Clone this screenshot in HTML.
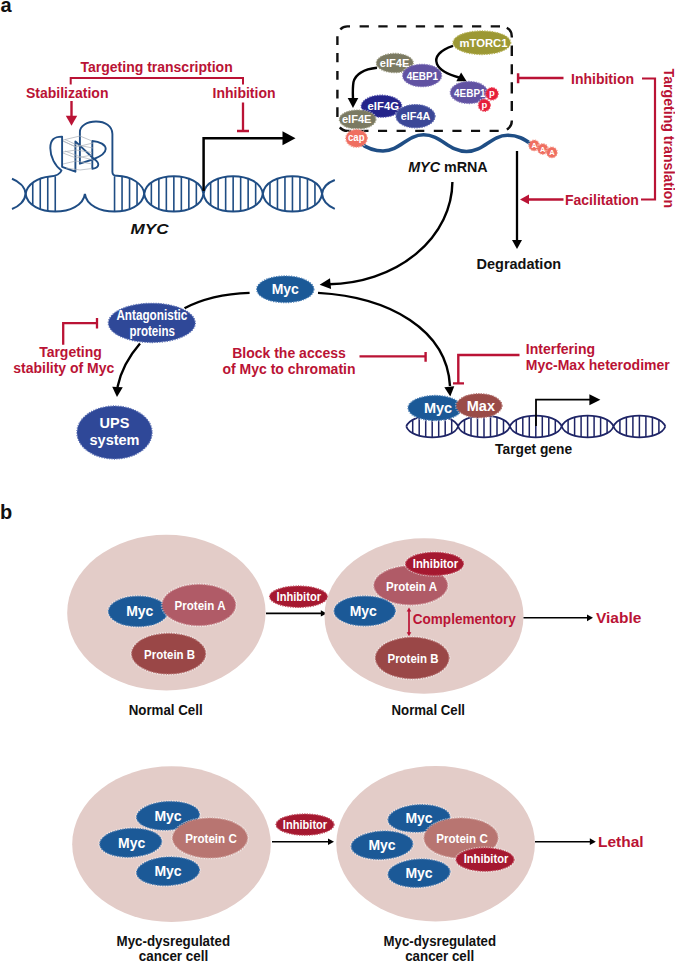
<!DOCTYPE html>
<html><head><meta charset="utf-8"><title>Myc targeting strategies</title>
<style>html,body{margin:0;padding:0;background:#fff;}svg{display:block;}text{font-family:"Liberation Sans",sans-serif;}</style>
</head><body>
<svg width="675" height="963" viewBox="0 0 675 963">
<rect width="675" height="963" fill="#fff"/>
<text x="0.5" y="11.5" font-size="20" fill="#111" font-weight="bold" font-style="normal" text-anchor="start">a</text>
<text x="0" y="518.6" font-size="20" fill="#111" font-weight="bold" font-style="normal" text-anchor="start">b</text>
<text x="80.5" y="72" font-size="14" fill="#ba1335" font-weight="bold" font-style="normal" text-anchor="start">Targeting transcription</text>
<path d="M70.7,84.5V78H243V84.5" fill="none" stroke="#ba1335" stroke-width="2"/>
<text x="26" y="98" font-size="14" fill="#ba1335" font-weight="bold" font-style="normal" text-anchor="start">Stabilization</text>
<text x="212.5" y="98" font-size="14" fill="#ba1335" font-weight="bold" font-style="normal" text-anchor="start">Inhibition</text>
<path d="M71.5,101V117" stroke="#ba1335" stroke-width="2.4"/>
<polygon points="71.50,125.70 65.80,115.70 77.20,115.70" fill="#ba1335"/>
<path d="M243,102.5V131 M237,131H249" fill="none" stroke="#ba1335" stroke-width="2.3"/>
<path d="M12,178.8 C19,181.5 25,187 25.6,193.9 C25,201 19,206.5 12,209" fill="none" stroke="#1f4d84" stroke-width="2"/>
<path d="M25.60,193.90 C28.57,217.40 81.94,217.40 84.90,193.90 " fill="none" stroke="#1f4d84" stroke-width="2.0"/><path d="M32.75,182.53V205.27M40.25,178.69V209.11M47.75,176.84V210.96M55.25,176.28V211.52" stroke="#1f4d84" stroke-width="1.6"/>
<path d="M84.90,193.90 C87.87,217.40 141.24,217.40 144.20,193.90 " fill="none" stroke="#1f4d84" stroke-width="2.0"/><path d="M114.55,176.28V211.53M122.05,176.84V210.96M129.55,178.69V209.11M137.05,182.53V205.27" stroke="#1f4d84" stroke-width="1.6"/>
<path d="M144.20,193.90 C147.16,170.40 200.53,170.40 203.50,193.90 M144.20,193.90 C147.16,217.40 200.53,217.40 203.50,193.90 " fill="none" stroke="#1f4d84" stroke-width="2.0"/><path d="M151.35,182.53V205.27M158.85,178.69V209.11M166.35,176.84V210.96M173.85,176.28V211.53M181.35,176.84V210.96M188.85,178.69V209.11M196.35,182.53V205.27" stroke="#1f4d84" stroke-width="1.6"/>
<path d="M203.50,193.90 C206.46,170.40 259.83,170.40 262.80,193.90 M203.50,193.90 C206.46,217.40 259.83,217.40 262.80,193.90 " fill="none" stroke="#1f4d84" stroke-width="2.0"/><path d="M210.65,182.53V205.27M218.15,178.69V209.11M225.65,176.84V210.96M233.15,176.28V211.53M240.65,176.84V210.96M248.15,178.69V209.11M255.65,182.53V205.27" stroke="#1f4d84" stroke-width="1.6"/>
<path d="M262.80,193.90 C265.76,170.40 319.13,170.40 322.10,193.90 M262.80,193.90 C265.76,217.40 319.13,217.40 322.10,193.90 " fill="none" stroke="#1f4d84" stroke-width="2.0"/><path d="M269.95,182.53V205.27M277.45,178.69V209.11M284.95,176.84V210.96M292.45,176.28V211.52M299.95,176.84V210.96M307.45,178.69V209.11M314.95,182.53V205.27" stroke="#1f4d84" stroke-width="1.6"/>
<path d="M322.1,193.9 C322.7,187 328,182.5 334.8,180 M322.1,193.9 C322.7,201 328,206 334.8,208.8" fill="none" stroke="#1f4d84" stroke-width="2"/>
<path d="M25.6,194 C27,184 38,177.5 50,176.5 C56,176 60,174.5 61.5,170.5 C55,166 50.3,157 50.3,148 C50.3,140 54,136.5 62.1,136.6 V166.8 L75.4,171.7 V141.4 L94,159 C99.5,162.5 100.5,167.5 92.3,168.8 V141 C100,141.5 105.7,145 105.7,149 C105.5,153.5 99,157 94,159 L79.9,163.7 V132 C79.9,126 87,121.5 96,121.5 C105,121.5 112.4,126 112.4,134 V172 C112.4,174.8 114,175.8 117,175.8 C131,176 143.5,184 144.2,194" fill="none" stroke="#1f4d84" stroke-width="1.9" stroke-linejoin="round"/>
<path d="M63,140 L80,136 L92,141 M63,141 L76,147 L93,143 M63,152 L76,150 L92,152.5 M63,153 L76,158 L92,155 M63,164 L76,161 L92,164 M66,168 L80,170 L92,168.5 M63,141 L76,147 M65,139.5 L77,145 L93,148 M65,151 L78,156 L93,160" fill="none" stroke="#a8aeb6" stroke-width="0.7"/>
<path d="M203.6,191 V138.2 H284" fill="none" stroke="#000" stroke-width="2.5"/>
<polygon points="295.50,138.20 282.50,145.20 282.50,131.20" fill="#000"/>
<text x="130.5" y="234" font-size="15" fill="#111" font-weight="bold" font-style="italic" text-anchor="start" textLength="38" lengthAdjust="spacingAndGlyphs">MYC</text>
<path d="M359.60,26.4h9.3M378.33,26.4h9.3M397.06,26.4h9.3M415.79,26.4h9.3M434.52,26.4h9.3M453.25,26.4h9.3M471.98,26.4h9.3M490.71,26.4h9.3M359.40,130.9h9.1M378.00,130.9h9.1M396.60,130.9h9.1M415.20,130.9h9.1M433.80,130.9h9.1M452.40,130.9h9.1M471.00,130.9h9.1M489.60,130.9h9.1M337.4,36.2V44.9M337.4,53V62.3M337.4,71V79.8M337.4,89.7V98.5M337.4,107.2V117M511.8,45.5V56.1M511.8,64.2V74.2M511.8,82.3V93.5M511.8,101V111M340.3,29.3A10,10 0 0 1 347.4,26.4H350M506.8,27.74A10,10 0 0 1 511.8,36.4V37.5M511.8,120.5A10,10 0 0 1 506.8,129.56M339.8,127.4A10,10 0 0 0 347.4,130.9H351.3" fill="none" stroke="#111" stroke-width="2.4"/>
<path d="M360,143 C366,147.5 373,151 383,151 C400,151 407,134.8 423.5,134.8 C441,134.8 449,151.5 466.5,151.5 C484,151.5 491,135.3 507.5,135.3 C518,135.3 524,139 531,144" fill="none" stroke="#1f4e85" stroke-width="3.6"/>
<ellipse cx="534.2" cy="145.4" rx="6.2" ry="6.2" fill="none" stroke="#fff" stroke-opacity="0.55" stroke-width="1.1" stroke-dasharray="1.4 1.1"/><ellipse cx="534.2" cy="145.4" rx="5.3" ry="5.3" fill="#ef6e60" stroke="#f49a8c" stroke-width="1.3" stroke-dasharray="1.2 1.3"/>
<text x="534.2" y="148.1" font-size="7.5" fill="#fff" font-weight="bold" font-style="normal" text-anchor="middle">A</text>
<ellipse cx="542.8" cy="149" rx="6.2" ry="6.2" fill="none" stroke="#fff" stroke-opacity="0.55" stroke-width="1.1" stroke-dasharray="1.4 1.1"/><ellipse cx="542.8" cy="149" rx="5.3" ry="5.3" fill="#ef6e60" stroke="#f49a8c" stroke-width="1.3" stroke-dasharray="1.2 1.3"/>
<text x="542.8" y="151.7" font-size="7.5" fill="#fff" font-weight="bold" font-style="normal" text-anchor="middle">A</text>
<ellipse cx="551.9" cy="152.4" rx="6.2" ry="6.2" fill="none" stroke="#fff" stroke-opacity="0.55" stroke-width="1.1" stroke-dasharray="1.4 1.1"/><ellipse cx="551.9" cy="152.4" rx="5.3" ry="5.3" fill="#ef6e60" stroke="#f49a8c" stroke-width="1.3" stroke-dasharray="1.2 1.3"/>
<text x="551.9" y="155.1" font-size="7.5" fill="#fff" font-weight="bold" font-style="normal" text-anchor="middle">A</text>
<ellipse cx="481.8" cy="42.7" rx="29.799999999999997" ry="12.700000000000001" fill="none" stroke="#fff" stroke-opacity="0.55" stroke-width="1.1" stroke-dasharray="1.4 1.1"/><ellipse cx="481.8" cy="42.7" rx="28.9" ry="11.8" fill="#9c9834" stroke="#b8b45a" stroke-width="1.3" stroke-dasharray="1.2 1.3"/>
<text x="483.5" y="46.7" font-size="11.3" fill="#fff" font-weight="bold" font-style="normal" text-anchor="middle" textLength="48" lengthAdjust="spacingAndGlyphs">mTORC1</text>
<ellipse cx="394.8" cy="63" rx="19.299999999999997" ry="10.5" fill="none" stroke="#fff" stroke-opacity="0.55" stroke-width="1.1" stroke-dasharray="1.4 1.1"/><ellipse cx="394.8" cy="63" rx="18.4" ry="9.6" fill="#7b7a62" stroke="#9a9980" stroke-width="1.3" stroke-dasharray="1.2 1.3"/>
<text x="394.6" y="66.5" font-size="10.5" fill="#fff" font-weight="bold" font-style="normal" text-anchor="middle" textLength="29.5" lengthAdjust="spacingAndGlyphs">eIF4E</text>
<ellipse cx="422.1" cy="75.5" rx="20.4" ry="12.1" fill="none" stroke="#fff" stroke-opacity="0.55" stroke-width="1.1" stroke-dasharray="1.4 1.1"/><ellipse cx="422.1" cy="75.5" rx="19.5" ry="11.2" fill="#6152a2" stroke="#8478bc" stroke-width="1.3" stroke-dasharray="1.2 1.3"/>
<text x="422.4" y="79.6" font-size="10.2" fill="#fff" font-weight="bold" font-style="normal" text-anchor="middle" textLength="31.5" lengthAdjust="spacingAndGlyphs">4EBP1</text>
<ellipse cx="469" cy="92.5" rx="19.599999999999998" ry="11.9" fill="none" stroke="#fff" stroke-opacity="0.55" stroke-width="1.1" stroke-dasharray="1.4 1.1"/><ellipse cx="469" cy="92.5" rx="18.7" ry="11.0" fill="#6152a2" stroke="#8478bc" stroke-width="1.3" stroke-dasharray="1.2 1.3"/>
<text x="469.8" y="96.5" font-size="10.2" fill="#fff" font-weight="bold" font-style="normal" text-anchor="middle" textLength="31.5" lengthAdjust="spacingAndGlyphs">4EBP1</text>
<ellipse cx="492" cy="93.8" rx="7.1000000000000005" ry="7.1000000000000005" fill="none" stroke="#fff" stroke-opacity="0.55" stroke-width="1.1" stroke-dasharray="1.4 1.1"/><ellipse cx="492" cy="93.8" rx="6.2" ry="6.2" fill="#e61e3a" stroke="#ee5064" stroke-width="1.3" stroke-dasharray="1.2 1.3"/>
<text x="492" y="96.4" font-size="9.5" fill="#fff" font-weight="bold" font-style="normal" text-anchor="middle">p</text>
<ellipse cx="484.4" cy="105.3" rx="6.9" ry="6.9" fill="none" stroke="#fff" stroke-opacity="0.55" stroke-width="1.1" stroke-dasharray="1.4 1.1"/><ellipse cx="484.4" cy="105.3" rx="6.0" ry="6.0" fill="#e61e3a" stroke="#ee5064" stroke-width="1.3" stroke-dasharray="1.2 1.3"/>
<text x="484.4" y="107.9" font-size="9.5" fill="#fff" font-weight="bold" font-style="normal" text-anchor="middle">p</text>
<ellipse cx="381.5" cy="106.2" rx="21.099999999999998" ry="11.9" fill="none" stroke="#fff" stroke-opacity="0.55" stroke-width="1.1" stroke-dasharray="1.4 1.1"/><ellipse cx="381.5" cy="106.2" rx="20.2" ry="11" fill="#24248a" stroke="#4848a8" stroke-width="1.3" stroke-dasharray="1.2 1.3"/>
<text x="383.3" y="110.2" font-size="11" fill="#fff" font-weight="bold" font-style="normal" text-anchor="middle" textLength="31.5" lengthAdjust="spacingAndGlyphs">eIF4G</text>
<ellipse cx="415.5" cy="116.2" rx="20.4" ry="12.5" fill="none" stroke="#fff" stroke-opacity="0.55" stroke-width="1.1" stroke-dasharray="1.4 1.1"/><ellipse cx="415.5" cy="116.2" rx="19.5" ry="11.6" fill="#3b4797" stroke="#5d68b0" stroke-width="1.3" stroke-dasharray="1.2 1.3"/>
<text x="415.5" y="119.8" font-size="10.8" fill="#fff" font-weight="bold" font-style="normal" text-anchor="middle" textLength="29.5" lengthAdjust="spacingAndGlyphs">eIF4A</text>
<ellipse cx="357.6" cy="119.5" rx="19.099999999999998" ry="10.3" fill="none" stroke="#fff" stroke-opacity="0.55" stroke-width="1.1" stroke-dasharray="1.4 1.1"/><ellipse cx="357.6" cy="119.5" rx="18.2" ry="9.4" fill="#7b7a62" stroke="#9a9980" stroke-width="1.3" stroke-dasharray="1.2 1.3"/>
<text x="356.7" y="122.9" font-size="10.5" fill="#fff" font-weight="bold" font-style="normal" text-anchor="middle" textLength="29.5" lengthAdjust="spacingAndGlyphs">eIF4E</text>
<ellipse cx="356.5" cy="138.3" rx="11.65" ry="9.8" fill="none" stroke="#fff" stroke-opacity="0.55" stroke-width="1.1" stroke-dasharray="1.4 1.1"/><ellipse cx="356.5" cy="138.3" rx="10.75" ry="8.9" fill="#ef6e60" stroke="#f49a8c" stroke-width="1.3" stroke-dasharray="1.2 1.3"/>
<text x="356.3" y="140.9" font-size="11.5" fill="#fff" font-weight="bold" font-style="normal" text-anchor="middle" textLength="16.5" lengthAdjust="spacingAndGlyphs">cap</text>
<path d="M453,45.8 C440,50 434,57 437,64 C440,71 450,75 459,77.5" fill="none" stroke="#000" stroke-width="2.4"/>
<polygon points="466.60,81.30 456.30,81.34 461.12,72.58" fill="#000"/>
<path d="M377,67.8 C366,69 356,73 353.5,82 C352.5,88 352.8,93 353,99" fill="none" stroke="#000" stroke-width="2.4"/>
<polygon points="353.00,108.00 347.70,98.00 358.30,98.00" fill="#000"/>
<path d="M518.1,73.3V83.2 M518.1,78H563.5" fill="none" stroke="#ba1335" stroke-width="2.5"/>
<text x="571" y="83.7" font-size="14" fill="#ba1335" font-weight="bold" font-style="normal" text-anchor="start">Inhibition</text>
<path d="M642,78.5H655V199.5H641" fill="none" stroke="#ba1335" stroke-width="2.2"/>
<text x="565" y="204.8" font-size="14" fill="#ba1335" font-weight="bold" font-style="normal" text-anchor="start">Facilitation</text>
<path d="M527,199.4H563.5" stroke="#ba1335" stroke-width="2.5"/>
<polygon points="520.00,199.40 529.00,194.60 529.00,204.20" fill="#ba1335"/>
<text x="0" y="0" font-size="14" fill="#ba1335" font-weight="bold" transform="translate(663.5,68.6) rotate(90)" textLength="139.5" lengthAdjust="spacingAndGlyphs">Targeting translation</text>
<text x="408.2" y="171.5" font-size="14.4" fill="#111" font-weight="bold" font-style="normal" text-anchor="start" textLength="79.5" lengthAdjust="spacingAndGlyphs"><tspan font-style="italic">MYC</tspan> mRNA</text>
<path d="M517,151V242" stroke="#000" stroke-width="2.3"/>
<polygon points="517.00,249.00 512.00,240.00 522.00,240.00" fill="#000"/>
<text x="476.5" y="269.3" font-size="14.5" fill="#111" font-weight="bold" font-style="normal" text-anchor="start">Degradation</text>
<path d="M452.4,182 A125,103 0 0 1 329,284.2" fill="none" stroke="#000" stroke-width="2.4"/>
<polygon points="319.60,284.70 330.00,278.13 331.09,289.08" fill="#000"/>
<ellipse cx="285.3" cy="289.3" rx="29.5" ry="14.200000000000001" fill="none" stroke="#fff" stroke-opacity="0.55" stroke-width="1.1" stroke-dasharray="1.4 1.1"/><ellipse cx="285.3" cy="289.3" rx="28.6" ry="13.3" fill="#1b5997" stroke="#4a7eb4" stroke-width="1.3" stroke-dasharray="1.2 1.3"/>
<text x="285.3" y="294.1" font-size="14" fill="#fff" font-weight="bold" font-style="normal" text-anchor="middle">Myc</text>
<path d="M249.6,292.9 C220,294 200,300 184.5,308.3" fill="none" stroke="#000" stroke-width="2.4"/>
<ellipse cx="151.8" cy="322.9" rx="44.4" ry="20.5" fill="none" stroke="#fff" stroke-opacity="0.55" stroke-width="1.1" stroke-dasharray="1.4 1.1"/><ellipse cx="151.8" cy="322.9" rx="43.5" ry="19.6" fill="#2f4898" stroke="#5a6fb4" stroke-width="1.3" stroke-dasharray="1.2 1.3"/>
<text x="151.9" y="319.8" font-size="14" fill="#fff" font-weight="bold" font-style="normal" text-anchor="middle" textLength="71" lengthAdjust="spacingAndGlyphs">Antagonistic</text>
<text x="152.2" y="335.6" font-size="14" fill="#fff" font-weight="bold" font-style="normal" text-anchor="middle" textLength="45.5" lengthAdjust="spacingAndGlyphs">proteins</text>
<path d="M140,343.5 C130,355 121,370 117.5,387" fill="none" stroke="#000" stroke-width="2.4"/>
<polygon points="117.00,397.00 112.21,386.75 122.79,387.28" fill="#000"/>
<ellipse cx="114.5" cy="432.5" rx="38.5" ry="27.4" fill="none" stroke="#fff" stroke-opacity="0.55" stroke-width="1.1" stroke-dasharray="1.4 1.1"/><ellipse cx="114.5" cy="432.5" rx="37.6" ry="26.5" fill="#2f4898" stroke="#5a6fb4" stroke-width="1.3" stroke-dasharray="1.2 1.3"/>
<text x="114.5" y="427.9" font-size="14.5" fill="#fff" font-weight="bold" font-style="normal" text-anchor="middle">UPS</text>
<text x="114.5" y="445.4" font-size="14.5" fill="#fff" font-weight="bold" font-style="normal" text-anchor="middle">system</text>
<path d="M63.2,344.7V323.2H97 M97,318V328.6" fill="none" stroke="#ba1335" stroke-width="2.3"/>
<text x="70.5" y="357" font-size="14" fill="#ba1335" font-weight="bold" font-style="normal" text-anchor="middle">Targeting</text>
<text x="63.8" y="372.6" font-size="14" fill="#ba1335" font-weight="bold" font-style="normal" text-anchor="middle">stability of Myc</text>
<path d="M318,292.9 C390,297 447,330 450,386" fill="none" stroke="#000" stroke-width="2.4"/>
<polygon points="450.30,396.60 444.33,387.15 454.28,386.15" fill="#000"/>
<text x="289" y="357.8" font-size="14" fill="#ba1335" font-weight="bold" font-style="normal" text-anchor="middle">Block the access</text>
<text x="289" y="374" font-size="14" fill="#ba1335" font-weight="bold" font-style="normal" text-anchor="middle">of Myc to chromatin</text>
<path d="M359.5,356.4H425.6 M425.6,352V361.7" fill="none" stroke="#ba1335" stroke-width="2.4"/>
<path d="M519.5,355H458.3V383.4 M453,383.4H464" fill="none" stroke="#ba1335" stroke-width="2.4"/>
<text x="525.8" y="353.7" font-size="14" fill="#ba1335" font-weight="bold" font-style="normal" text-anchor="start">Interfering</text>
<text x="525.8" y="370.2" font-size="14" fill="#ba1335" font-weight="bold" font-style="normal" text-anchor="start">Myc-Max heterodimer</text>
<path d="M406.30,426.50 C411.48,411.94 452.92,411.94 458.10,426.50 M406.30,426.50 C411.48,441.06 452.92,441.06 458.10,426.50 " fill="none" stroke="#1e2466" stroke-width="1.8"/><path d="M412.70,419.77V433.23M419.20,417.21V435.79M425.70,415.96V437.04M432.20,415.58V437.42M438.70,415.96V437.04M445.20,417.21V435.79M451.70,419.77V433.23" stroke="#1e2466" stroke-width="1.5"/>
<path d="M458.10,426.50 C463.28,411.94 504.72,411.94 509.90,426.50 M458.10,426.50 C463.28,441.06 504.72,441.06 509.90,426.50 " fill="none" stroke="#1e2466" stroke-width="1.8"/><path d="M464.50,419.77V433.23M471.00,417.21V435.79M477.50,415.96V437.04M484.00,415.58V437.42M490.50,415.96V437.04M497.00,417.21V435.79M503.50,419.77V433.23" stroke="#1e2466" stroke-width="1.5"/>
<path d="M509.90,426.50 C515.08,411.94 556.52,411.94 561.70,426.50 M509.90,426.50 C515.08,441.06 556.52,441.06 561.70,426.50 " fill="none" stroke="#1e2466" stroke-width="1.8"/><path d="M516.30,419.77V433.23M522.80,417.21V435.79M529.30,415.96V437.04M535.80,415.58V437.42M542.30,415.96V437.04M548.80,417.21V435.79M555.30,419.77V433.23" stroke="#1e2466" stroke-width="1.5"/>
<path d="M561.70,426.50 C566.88,411.94 608.32,411.94 613.50,426.50 M561.70,426.50 C566.88,441.06 608.32,441.06 613.50,426.50 " fill="none" stroke="#1e2466" stroke-width="1.8"/><path d="M568.10,419.77V433.23M574.60,417.21V435.79M581.10,415.96V437.04M587.60,415.58V437.42M594.10,415.96V437.04M600.60,417.21V435.79M607.10,419.77V433.23" stroke="#1e2466" stroke-width="1.5"/>
<path d="M613.50,426.50 C618.68,411.94 660.12,411.94 665.30,426.50 M613.50,426.50 C618.68,441.06 660.12,441.06 665.30,426.50 " fill="none" stroke="#1e2466" stroke-width="1.8"/><path d="M619.90,419.77V433.23M626.40,417.21V435.79M632.90,415.96V437.04M639.40,415.58V437.42M645.90,415.96V437.04M652.40,417.21V435.79M658.90,419.77V433.23" stroke="#1e2466" stroke-width="1.5"/>
<path d="M536,426 V399.7 H590" fill="none" stroke="#000" stroke-width="1.8"/>
<polygon points="600.40,399.70 589.40,405.20 589.40,394.20" fill="#000"/>
<ellipse cx="435" cy="408" rx="27.9" ry="13.4" fill="none" stroke="#fff" stroke-opacity="0.55" stroke-width="1.1" stroke-dasharray="1.4 1.1"/><ellipse cx="435" cy="408" rx="27" ry="12.5" fill="#1b5997" stroke="#4a7eb4" stroke-width="1.3" stroke-dasharray="1.2 1.3"/>
<ellipse cx="479.2" cy="405.7" rx="23.7" ry="12.9" fill="none" stroke="#fff" stroke-opacity="0.55" stroke-width="1.1" stroke-dasharray="1.4 1.1"/><ellipse cx="479.2" cy="405.7" rx="22.8" ry="12.0" fill="#9a4b47" stroke="#b47370" stroke-width="1.3" stroke-dasharray="1.2 1.3"/>
<text x="438" y="413" font-size="14.5" fill="#fff" font-weight="bold" font-style="normal" text-anchor="middle">Myc</text>
<text x="480.9" y="410.7" font-size="14.5" fill="#fff" font-weight="bold" font-style="normal" text-anchor="middle">Max</text>
<text x="533.6" y="454.2" font-size="14" fill="#111" font-weight="bold" font-style="normal" text-anchor="middle" textLength="77" lengthAdjust="spacingAndGlyphs">Target gene</text>
<ellipse cx="166.4" cy="612.7" rx="99.2" ry="77.9" fill="#e3ccc8"/>
<ellipse cx="138.1" cy="611.4" rx="30.599999999999998" ry="16.099999999999998" fill="none" stroke="#fff" stroke-opacity="0.55" stroke-width="1.1" stroke-dasharray="1.4 1.1"/><ellipse cx="138.1" cy="611.4" rx="29.7" ry="15.2" fill="#1b5997" stroke="#4a7eb4" stroke-width="1.3" stroke-dasharray="1.2 1.3"/>
<text x="139.8" y="616.4" font-size="14" fill="#fff" font-weight="bold" font-style="normal" text-anchor="middle">Myc</text>
<ellipse cx="198.9" cy="605" rx="37.6" ry="21.5" fill="none" stroke="#fff" stroke-opacity="0.55" stroke-width="1.1" stroke-dasharray="1.4 1.1"/><ellipse cx="198.9" cy="605" rx="36.7" ry="20.6" fill="#b05b67" stroke="#c8848c" stroke-width="1.3" stroke-dasharray="1.2 1.3"/>
<text x="200" y="609.6" font-size="13" fill="#fff" font-weight="bold" font-style="normal" text-anchor="middle" textLength="51" lengthAdjust="spacingAndGlyphs">Protein A</text>
<ellipse cx="168.6" cy="653.7" rx="37.9" ry="21.2" fill="none" stroke="#fff" stroke-opacity="0.55" stroke-width="1.1" stroke-dasharray="1.4 1.1"/><ellipse cx="168.6" cy="653.7" rx="37" ry="20.3" fill="#9a4747" stroke="#b47070" stroke-width="1.3" stroke-dasharray="1.2 1.3"/>
<text x="169.6" y="658.9" font-size="13" fill="#fff" font-weight="bold" font-style="normal" text-anchor="middle" textLength="51" lengthAdjust="spacingAndGlyphs">Protein B</text>
<text x="165.7" y="715" font-size="14" fill="#111" font-weight="bold" font-style="normal" text-anchor="middle" textLength="74" lengthAdjust="spacingAndGlyphs">Normal Cell</text>
<ellipse cx="298.5" cy="596.7" rx="29.799999999999997" ry="11.6" fill="none" stroke="#fff" stroke-opacity="0.55" stroke-width="1.1" stroke-dasharray="1.4 1.1"/><ellipse cx="298.5" cy="596.7" rx="28.9" ry="10.7" fill="#a51830" stroke="#c04a5c" stroke-width="1.3" stroke-dasharray="1.2 1.3"/>
<text x="298.8" y="601.3" font-size="13.5" fill="#fff" font-weight="bold" font-style="normal" text-anchor="middle" textLength="44.4" lengthAdjust="spacingAndGlyphs">Inhibitor</text>
<path d="M266,613.4H322" stroke="#000" stroke-width="1.6"/>
<polygon points="326.80,613.40 320.80,616.60 320.80,610.20" fill="#000"/>
<ellipse cx="424" cy="616" rx="99.5" ry="77.7" fill="#e3ccc8"/>
<ellipse cx="410.7" cy="585.4" rx="37.699999999999996" ry="20.299999999999997" fill="none" stroke="#fff" stroke-opacity="0.55" stroke-width="1.1" stroke-dasharray="1.4 1.1"/><ellipse cx="410.7" cy="585.4" rx="36.8" ry="19.4" fill="#b05b67" stroke="#c8848c" stroke-width="1.3" stroke-dasharray="1.2 1.3"/>
<text x="411.5" y="590.7" font-size="13" fill="#fff" font-weight="bold" font-style="normal" text-anchor="middle" textLength="51" lengthAdjust="spacingAndGlyphs">Protein A</text>
<ellipse cx="434.6" cy="563.8" rx="29.9" ry="12.4" fill="none" stroke="#fff" stroke-opacity="0.55" stroke-width="1.1" stroke-dasharray="1.4 1.1"/><ellipse cx="434.6" cy="563.8" rx="29" ry="11.5" fill="#a51830" stroke="#c04a5c" stroke-width="1.3" stroke-dasharray="1.2 1.3"/>
<text x="435.5" y="567.8" font-size="13.5" fill="#fff" font-weight="bold" font-style="normal" text-anchor="middle" textLength="45.5" lengthAdjust="spacingAndGlyphs">Inhibitor</text>
<ellipse cx="364.7" cy="611" rx="31.5" ry="15.700000000000001" fill="none" stroke="#fff" stroke-opacity="0.55" stroke-width="1.1" stroke-dasharray="1.4 1.1"/><ellipse cx="364.7" cy="611" rx="30.6" ry="14.8" fill="#1b5997" stroke="#4a7eb4" stroke-width="1.3" stroke-dasharray="1.2 1.3"/>
<text x="363.3" y="616" font-size="14" fill="#fff" font-weight="bold" font-style="normal" text-anchor="middle">Myc</text>
<ellipse cx="412.2" cy="658" rx="37.699999999999996" ry="21.599999999999998" fill="none" stroke="#fff" stroke-opacity="0.55" stroke-width="1.1" stroke-dasharray="1.4 1.1"/><ellipse cx="412.2" cy="658" rx="36.8" ry="20.7" fill="#9a4747" stroke="#b47070" stroke-width="1.3" stroke-dasharray="1.2 1.3"/>
<text x="413" y="663" font-size="13" fill="#fff" font-weight="bold" font-style="normal" text-anchor="middle" textLength="51" lengthAdjust="spacingAndGlyphs">Protein B</text>
<path d="M409,610V633.5" stroke="#ba1335" stroke-width="1.7"/>
<polygon points="409.00,607.40 411.30,611.40 406.70,611.40" fill="#ba1335"/>
<polygon points="409.00,636.30 406.70,632.30 411.30,632.30" fill="#ba1335"/>
<text x="412.8" y="624.2" font-size="14" fill="#ba1335" font-weight="bold" font-style="normal" text-anchor="start" textLength="103" lengthAdjust="spacingAndGlyphs">Complementory</text>
<text x="428.3" y="714.9" font-size="14" fill="#111" font-weight="bold" font-style="normal" text-anchor="middle" textLength="73.5" lengthAdjust="spacingAndGlyphs">Normal Cell</text>
<path d="M523.5,617.8H589" stroke="#000" stroke-width="1.6"/>
<polygon points="593.00,617.80 587.00,621.20 587.00,614.40" fill="#000"/>
<text x="596" y="622.8" font-size="15.5" fill="#ba1335" font-weight="bold" font-style="normal" text-anchor="start">Viable</text>
<ellipse cx="171.5" cy="844.15" rx="99.3" ry="77.95" fill="#e3ccc8"/>
<ellipse cx="168" cy="815.8" rx="32.4" ry="15.1" fill="none" stroke="#fff" stroke-opacity="0.55" stroke-width="1.1" stroke-dasharray="1.4 1.1" transform="rotate(-3 168 815.8)"/><ellipse cx="168" cy="815.8" rx="31.5" ry="14.2" fill="#1b5997" stroke="#4a7eb4" stroke-width="1.3" stroke-dasharray="1.2 1.3" transform="rotate(-3 168 815.8)"/>
<text x="168" y="820.8" font-size="14" fill="#fff" font-weight="bold" font-style="normal" text-anchor="middle">Myc</text>
<ellipse cx="130.7" cy="842.8" rx="31.9" ry="15.200000000000001" fill="none" stroke="#fff" stroke-opacity="0.55" stroke-width="1.1" stroke-dasharray="1.4 1.1" transform="rotate(-3 130.7 842.8)"/><ellipse cx="130.7" cy="842.8" rx="31" ry="14.3" fill="#1b5997" stroke="#4a7eb4" stroke-width="1.3" stroke-dasharray="1.2 1.3" transform="rotate(-3 130.7 842.8)"/>
<text x="131.7" y="847.8" font-size="14" fill="#fff" font-weight="bold" font-style="normal" text-anchor="middle">Myc</text>
<ellipse cx="168" cy="871.3" rx="32.4" ry="15.1" fill="none" stroke="#fff" stroke-opacity="0.55" stroke-width="1.1" stroke-dasharray="1.4 1.1" transform="rotate(-3 168 871.3)"/><ellipse cx="168" cy="871.3" rx="31.5" ry="14.2" fill="#1b5997" stroke="#4a7eb4" stroke-width="1.3" stroke-dasharray="1.2 1.3" transform="rotate(-3 168 871.3)"/>
<text x="168" y="876.3" font-size="14" fill="#fff" font-weight="bold" font-style="normal" text-anchor="middle">Myc</text>
<ellipse cx="210" cy="838" rx="38.4" ry="20.799999999999997" fill="none" stroke="#fff" stroke-opacity="0.55" stroke-width="1.1" stroke-dasharray="1.4 1.1"/><ellipse cx="210" cy="838" rx="37.5" ry="19.9" fill="#b87571" stroke="#cc9894" stroke-width="1.3" stroke-dasharray="1.2 1.3"/>
<text x="211" y="842.6" font-size="13.5" fill="#fff" font-weight="bold" font-style="normal" text-anchor="middle" textLength="51.5" lengthAdjust="spacingAndGlyphs">Protein C</text>
<text x="173.3" y="945.8" font-size="14" fill="#111" font-weight="bold" font-style="normal" text-anchor="middle" textLength="113.5" lengthAdjust="spacingAndGlyphs">Myc-dysregulated</text>
<text x="173.5" y="960.6" font-size="14" fill="#111" font-weight="bold" font-style="normal" text-anchor="middle" textLength="69.5" lengthAdjust="spacingAndGlyphs">cancer cell</text>
<ellipse cx="305" cy="824.6" rx="29.9" ry="11.5" fill="none" stroke="#fff" stroke-opacity="0.55" stroke-width="1.1" stroke-dasharray="1.4 1.1"/><ellipse cx="305" cy="824.6" rx="29" ry="10.6" fill="#a51830" stroke="#c04a5c" stroke-width="1.3" stroke-dasharray="1.2 1.3"/>
<text x="305" y="829.2" font-size="13.5" fill="#fff" font-weight="bold" font-style="normal" text-anchor="middle" textLength="44.4" lengthAdjust="spacingAndGlyphs">Inhibitor</text>
<path d="M272,841.8H329" stroke="#000" stroke-width="1.6"/>
<polygon points="334.00,841.80 328.00,845.10 328.00,838.50" fill="#000"/>
<ellipse cx="435.6" cy="843.75" rx="99.3" ry="77.85" fill="#e3ccc8"/>
<ellipse cx="419" cy="818.4" rx="31.9" ry="14.5" fill="none" stroke="#fff" stroke-opacity="0.55" stroke-width="1.1" stroke-dasharray="1.4 1.1" transform="rotate(-3 419 818.4)"/><ellipse cx="419" cy="818.4" rx="31" ry="13.6" fill="#1b5997" stroke="#4a7eb4" stroke-width="1.3" stroke-dasharray="1.2 1.3" transform="rotate(-3 419 818.4)"/>
<text x="419" y="823.4" font-size="14" fill="#fff" font-weight="bold" font-style="normal" text-anchor="middle">Myc</text>
<ellipse cx="382" cy="845.2" rx="31.7" ry="14.9" fill="none" stroke="#fff" stroke-opacity="0.55" stroke-width="1.1" stroke-dasharray="1.4 1.1" transform="rotate(-3 382 845.2)"/><ellipse cx="382" cy="845.2" rx="30.8" ry="14" fill="#1b5997" stroke="#4a7eb4" stroke-width="1.3" stroke-dasharray="1.2 1.3" transform="rotate(-3 382 845.2)"/>
<text x="382" y="850.2" font-size="14" fill="#fff" font-weight="bold" font-style="normal" text-anchor="middle">Myc</text>
<ellipse cx="419" cy="873.2" rx="31.9" ry="14.9" fill="none" stroke="#fff" stroke-opacity="0.55" stroke-width="1.1" stroke-dasharray="1.4 1.1" transform="rotate(-3 419 873.2)"/><ellipse cx="419" cy="873.2" rx="31" ry="14" fill="#1b5997" stroke="#4a7eb4" stroke-width="1.3" stroke-dasharray="1.2 1.3" transform="rotate(-3 419 873.2)"/>
<text x="419" y="878.2" font-size="14" fill="#fff" font-weight="bold" font-style="normal" text-anchor="middle">Myc</text>
<ellipse cx="461" cy="838" rx="37.9" ry="20.9" fill="none" stroke="#fff" stroke-opacity="0.55" stroke-width="1.1" stroke-dasharray="1.4 1.1"/><ellipse cx="461" cy="838" rx="37" ry="20" fill="#b87571" stroke="#cc9894" stroke-width="1.3" stroke-dasharray="1.2 1.3"/>
<text x="462" y="842.5" font-size="13.5" fill="#fff" font-weight="bold" font-style="normal" text-anchor="middle" textLength="51.5" lengthAdjust="spacingAndGlyphs">Protein C</text>
<ellipse cx="485" cy="859.6" rx="29.9" ry="12.5" fill="none" stroke="#fff" stroke-opacity="0.55" stroke-width="1.1" stroke-dasharray="1.4 1.1"/><ellipse cx="485" cy="859.6" rx="29" ry="11.6" fill="#a51830" stroke="#c04a5c" stroke-width="1.3" stroke-dasharray="1.2 1.3"/>
<text x="486" y="863.4" font-size="13.5" fill="#fff" font-weight="bold" font-style="normal" text-anchor="middle" textLength="44.6" lengthAdjust="spacingAndGlyphs">Inhibitor</text>
<text x="439.8" y="945.8" font-size="14" fill="#111" font-weight="bold" font-style="normal" text-anchor="middle" textLength="112.5" lengthAdjust="spacingAndGlyphs">Myc-dysregulated</text>
<text x="439.7" y="960.6" font-size="14" fill="#111" font-weight="bold" font-style="normal" text-anchor="middle" textLength="69" lengthAdjust="spacingAndGlyphs">cancer cell</text>
<path d="M535,841.7H591" stroke="#000" stroke-width="1.6"/>
<polygon points="595.80,841.70 589.80,845.10 589.80,838.30" fill="#000"/>
<text x="598" y="847.2" font-size="15.5" fill="#ba1335" font-weight="bold" font-style="normal" text-anchor="start">Lethal</text>
</svg>
</body></html>
